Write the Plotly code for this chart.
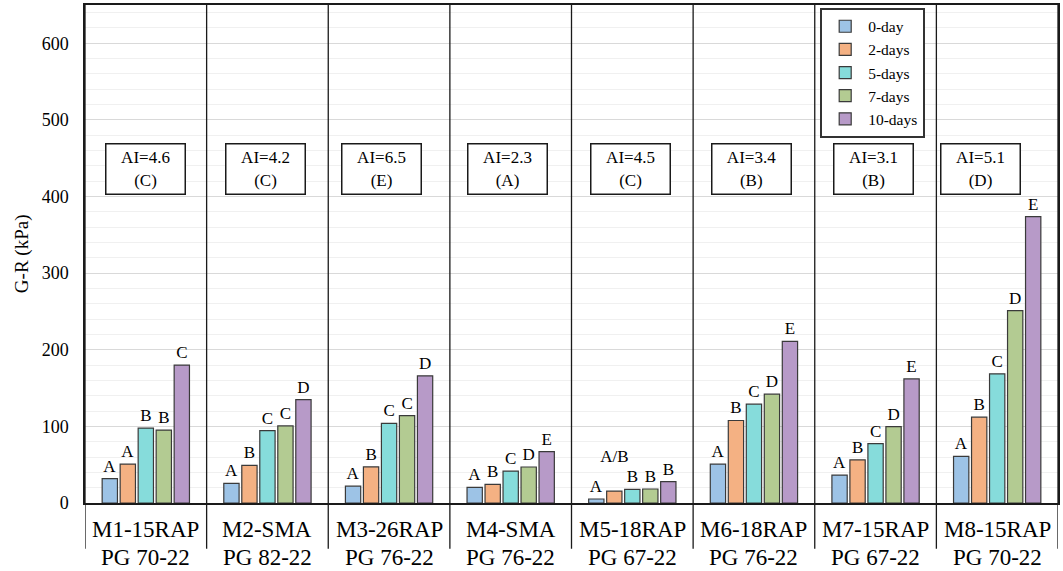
import plotly.graph_objects as go

categories = ["M1-15RAP", "M2-SMA", "M3-26RAP", "M4-SMA", "M5-18RAP", "M6-18RAP", "M7-15RAP", "M8-15RAP"]
grades = ["PG 70-22", "PG 82-22", "PG 76-22", "PG 76-22", "PG 67-22", "PG 76-22", "PG 67-22", "PG 70-22"]
series_names = ["0-day", "2-days", "5-days", "7-days", "10-days"]

day0 = [31.7, 25.5, 21.9, 20.3, 5.2, 50.8, 36.5, 60.8]
day2 = [50.8, 49.0, 47.2, 24.3, 15.6, 107.7, 56.3, 112.0]
day5 = [97.8, 94.5, 104.0, 41.7, 17.7, 129.0, 77.6, 168.6]
day7 = [95.2, 100.6, 114.0, 47.0, 18.3, 142.0, 99.7, 251.0]
day10 = [180.0, 135.0, 166.0, 67.0, 27.8, 211.0, 162.0, 373.7]

letters0 = ["A", "A", "A", "A", "A", "A", "A", "A"]
letters2 = ["A", "B", "B", "B", "A/B", "B", "B", "B"]
letters5 = ["B", "C", "C", "C", "B", "C", "C", "C"]
letters7 = ["B", "C", "C", "D", "B", "D", "D", "D"]
letters10 = ["C", "D", "D", "E", "B", "E", "E", "E"]

ai_values = ["4.6", "4.2", "6.5", "2.3", "4.5", "3.4", "3.1", "5.1"]
ai_groups = ["C", "C", "E", "A", "C", "B", "B", "D"]

colors = ["#9DC3E6", "#F4B183", "#86DCDB", "#B3CB92", "#B79AC8"]
FONT = "Liberation Serif"

values = [day0, day2, day5, day7, day10]
letters = [letters0, letters2, letters5, letters7, letters10]


def label_text(s):
    # longer labels are lifted by one line, as in the original figure
    return s + "<br> " if len(s) > 1 else s


fig = go.Figure()
for name, vals, labs, col in zip(series_names, values, letters, colors):
    fig.add_trace(go.Bar(
        x=categories, y=vals, name=name,
        marker=dict(color=col, line=dict(color="#3a3a3a", width=1.2)),
        text=[label_text(s) for s in labs], textposition="outside", constraintext="none",
        cliponaxis=False,
        textfont=dict(family=FONT, size=17, color="black"),
    ))

shapes = []
for i in range(len(categories) + 1):
    shapes.append(dict(type="line", xref="x", yref="paper", x0=i - 0.5, x1=i - 0.5,
                       y0=-0.092, y1=1, line=dict(color="#1a1a1a", width=1.3), layer="above"))

annotations = []
box_shift = [0, -2, -8, -3, -2, -2, -2, -17]
for i, cat in enumerate(categories):
    annotations.append(dict(x=cat, y=-0.054, xref="x", yref="paper", text=cat, showarrow=False,
                            yanchor="middle", font=dict(family=FONT, size=23, color="black")))
    annotations.append(dict(x=cat, y=-0.109, xref="x", yref="paper", text=grades[i], showarrow=False,
                            yanchor="middle", font=dict(family=FONT, size=23, color="black")))
    annotations.append(dict(x=cat, y=436, xref="x", yref="y", xshift=box_shift[i],
                            text="AI=" + ai_values[i] + "<br>(" + ai_groups[i] + ")", showarrow=False,
                            font=dict(family=FONT, size=17, color="black"),
                            bordercolor="#1a1a1a", borderwidth=1.5, bgcolor="white",
                            width=76, height=47, align="center"))
annotations.append(dict(x=-0.0646, y=0.5, xref="paper", yref="paper", text="G-R (kPa)",
                        textangle=-90, showarrow=False, xanchor="center", yanchor="middle",
                        font=dict(family=FONT, size=19, color="black")))

fig.update_layout(
    width=1063, height=571,
    margin=dict(l=85, r=3, t=4, b=68),
    paper_bgcolor="white", plot_bgcolor="white",
    barmode="group", bargap=0.26, bargroupgap=0.15,
    font=dict(family=FONT, color="black"),
    shapes=shapes, annotations=annotations,
    legend=dict(x=0.7556, y=0.9946, xanchor="left", yanchor="top",
                font=dict(family=FONT, size=15.5, color="black"),
                bgcolor="white", bordercolor="#333333", borderwidth=2, itemwidth=36),
    showlegend=True,
)
fig.update_xaxes(range=[-0.5, 7.5], showticklabels=False, ticks="", showgrid=False,
                 showline=True, linecolor="#1a1a1a", linewidth=1.5, mirror=True, zeroline=False)
fig.update_yaxes(range=[0, 650], tickvals=[0, 100, 200, 300, 400, 500, 600],
                 showgrid=True, gridcolor="#d9d9d9", gridwidth=1,
                 minor=dict(dtick=20, showgrid=True, gridcolor="#f0f0f0", gridwidth=1),
                 showline=True, linecolor="#1a1a1a", linewidth=1.5, mirror=True, zeroline=False,
                 ticks="", ticklabelstandoff=11,
                 tickfont=dict(family=FONT, size=18, color="black"))

fig.write_html("out.html")
